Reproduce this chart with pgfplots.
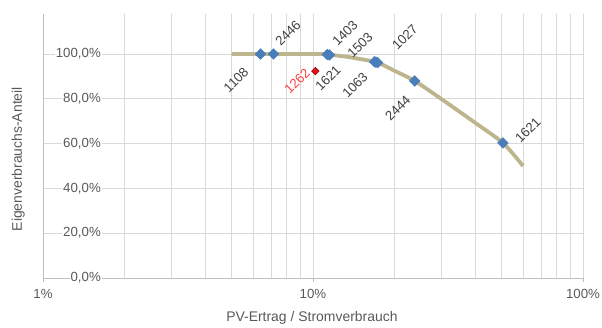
\documentclass[border=0pt]{standalone}
\usepackage{fontspec}
\setmainfont{Liberation Sans}
\usepackage{pgfplots}
\pgfplotsset{compat=1.18}
\definecolor{gridgray}{HTML}{D9D9D9}
\definecolor{axgray}{HTML}{BFBFBF}
\definecolor{txtgray}{HTML}{595959}
\definecolor{lblgray}{HTML}{404040}
\definecolor{curvec}{HTML}{BCB58E}
\definecolor{mblue}{HTML}{4A7EBB}
\definecolor{mred}{HTML}{E8101A}
\begin{document}
\begin{tikzpicture}
\useasboundingbox (-43bp,-50bp) rectangle (559bp,278bp);
\begin{axis}[
 at={(0,0)}, anchor=south west,
 width=540bp, height=264bp, scale only axis,
 xmode=log, xmin=1, xmax=100, ymin=0, ymax=117.9,
 axis lines*=left, axis line style={-, draw=axgray, line width=0.8bp},
 xtick={1,10,100}, xticklabels={1\%,10\%,100\%},
 minor xtick={2,3,4,5,6,7,8,9,20,30,40,50,60,70,80,90},
 ytick={0,20,40,60,80,100},
 yticklabels={{0,0\%},{20,0\%},{40,0\%},{60,0\%},{80,0\%},{100,0\%}},
 xmajorgrids, xminorgrids, ymajorgrids,
 major grid style={draw=gridgray, line width=0.8bp},
 minor grid style={draw=gridgray, line width=0.8bp},
 tick align=outside, major tick length=4bp, minor tick length=0pt,
 xtick style={draw=axgray, line width=0.8bp}, ytick style={draw=none},
 tick label style={font=\fontsize{13.3}{15}\selectfont, text=txtgray},
 xticklabel style={yshift=-4bp},
 yticklabel style={anchor=east, xshift=63bp, fill=white, inner sep=1bp},
 xlabel={PV-Ertrag / Stromverbrauch}, ylabel={Eigenverbrauchs-Anteil},
 label style={font=\fontsize{14}{16}\selectfont, text=txtgray},
 xlabel style={at={(axis description cs:0.498,-0.152)}, anchor=center},
 ylabel style={at={(axis description cs:-0.046,0.45)}, anchor=center},
 clip=false,
]
\addplot[curvec, line width=3.8bp, smooth, tension=0.5, no marks] coordinates {
 (5,100) (6.39,100) (7.14,100) (11.3,100) (11.6,99.7) (13.5,98.7) (16.8,96.7) (17.5,96.1)
 (20,92.6) (23.8,88) (30,79.8) (40,69.2) (50.5,60.3) (60,50)};
\addplot[only marks, mark=square*, mark size=3.8bp, mark options={fill=mblue, draw=mblue, rotate=45}] coordinates {
 (6.39,100) (7.14,100) (11.3,99.8) (11.5,99.6) (16.9,96.6) (17.1,96.4) (17.35,96.2) (23.8,88) (50.5,60.3)};
\addplot[only marks, mark=square*, mark size=2.7bp, mark options={fill=mred, draw=red!50!black, line width=0.5bp, rotate=45}] coordinates {
 (10.2,92.4)};
\begin{scope}[every node/.style={rotate=45, font=\fontsize{13.3}{15}\selectfont, text=lblgray, inner sep=0pt}]
\node at (axis cs:5.19,88.4) {1108};
\node at (axis cs:8.08,109.4) {2446};
\node[text=red!75] at (axis cs:8.73,87.9) {1262};
\node at (axis cs:11.37,89.3) {1621};
\node at (axis cs:13.14,109.4) {1403};
\node at (axis cs:14.93,104.0) {1503};
\node at (axis cs:14.31,86.2) {1063};
\node at (axis cs:21.9,107.6) {1027};
\node at (axis cs:20.6,75.9) {2444};
\node at (axis cs:62.5,66.1) {1621};
\end{scope}
\end{axis}
\end{tikzpicture}
\end{document}
